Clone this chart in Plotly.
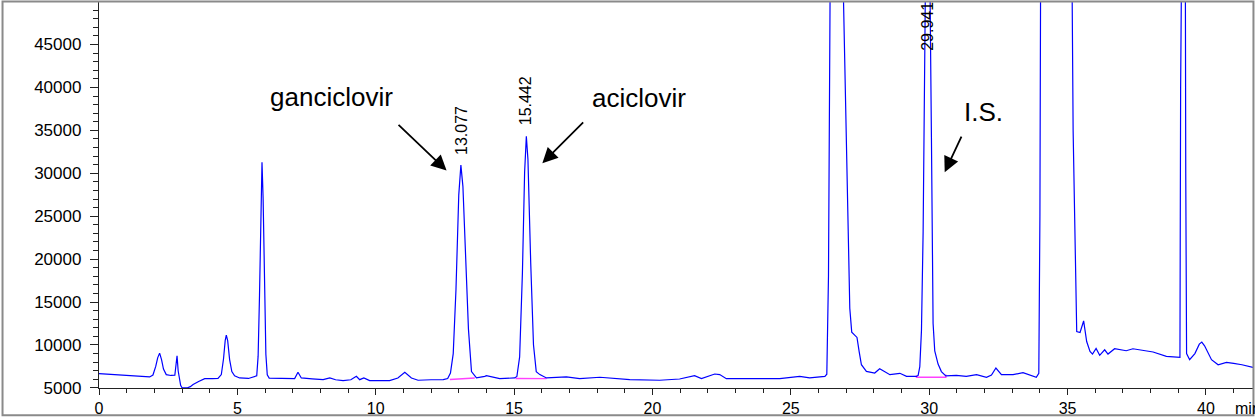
import plotly.graph_objects as go

# ---- chromatogram trace (time in min, signal) ----
time_min = [
    0.0, 0.5, 1.0, 1.5, 1.83, 1.95, 2.05, 2.12, 2.19, 2.26, 2.33, 2.43, 2.6, 2.74,
    2.78, 2.82, 2.86, 2.90, 2.95, 3.0, 3.1, 3.2, 3.3, 3.4, 3.6, 3.82, 4.1, 4.3,
    4.42, 4.5, 4.56, 4.6, 4.65, 4.72, 4.8, 4.9, 5.08, 5.4, 5.70, 5.75, 5.80, 5.85,
    5.89, 5.93, 5.98, 6.03, 6.08, 6.15, 6.6, 7.07, 7.19, 7.31, 7.7, 8.1, 8.34, 8.55,
    8.82, 9.1, 9.3, 9.42, 9.57, 9.78, 10.2, 10.5, 10.8, 11.05, 11.29, 11.53, 12.0,
    12.44, 12.6, 12.7, 12.8, 12.9, 13.0, 13.077, 13.15, 13.25, 13.35, 13.46, 13.64,
    13.94, 14.0, 14.48, 15.02, 15.1, 15.2, 15.3, 15.38, 15.442, 15.5, 15.6, 15.7,
    15.8, 15.93, 16.17, 16.89, 17.37, 18.1, 19.18, 20.26, 20.98, 21.52, 21.77,
    22.25, 22.43, 22.67, 23.39, 24.6, 25.32, 25.68, 26.23, 26.30, 26.36, 26.42,
    26.65, 26.89, 27.0, 27.13, 27.2, 27.3, 27.39, 27.47, 27.55, 27.73, 28.03, 28.21,
    28.58, 28.94, 29.18, 29.54, 29.60, 29.66, 29.72, 29.78, 29.86, 29.941, 30.02,
    30.08, 30.14, 30.2, 30.32, 30.44, 30.6, 30.98, 31.34, 31.71, 32.07, 32.25,
    32.41, 32.61, 33.03, 33.39, 33.63, 33.87, 33.96, 34.0, 34.05, 34.6, 35.1, 35.2,
    35.33, 35.45, 35.58, 35.69, 35.81, 35.9, 36.03, 36.16, 36.34, 36.46, 36.7,
    37.12, 37.36, 37.7, 38.09, 38.57, 39.06, 39.085, 39.11, 39.18, 39.245, 39.27,
    39.30, 39.41, 39.6, 39.76, 39.85, 39.95, 40.2, 40.44, 40.74, 41.0, 41.3, 41.7,
]
signal = [
    6660, 6550, 6450, 6350, 6280, 6500, 7500, 8500, 9050, 8300, 7200, 6550, 6450, 6470,
    7600, 8750, 7000, 6100, 5300, 5020, 5000, 5020, 5150, 5390, 5750, 6080, 6080, 6100,
    6550, 8400, 10500, 11150, 10500, 8300, 6900, 6400, 6160, 6100, 6400, 8700, 15800, 27100,
    31280, 27100, 16400, 8930, 6530, 6150, 6100, 6080, 6820, 6160, 6050, 5960, 6160, 5950,
    5850, 5950, 6350, 5960, 6160, 5850, 5850, 5850, 6160, 6820, 6160, 5890, 5950,
    5960, 6100, 6720, 9000, 16500, 27460, 30950, 28480, 19940, 11850, 6900, 6160,
    6350, 6430, 6080, 6160, 6330, 8610, 18370, 30150, 34300, 31620, 19580, 10020,
    6900, 6550, 6160, 6280, 6080, 6240, 5960, 5890, 6040, 6430, 6080,
    6620, 6550, 6080, 6080, 6080, 6350, 6160, 6350, 6600, 18000, 52000,
    90000, 52000, 33000, 14280, 11500, 11200, 10880, 9200, 7700, 6930, 6740, 7240,
    6540, 6700, 6350, 6350, 6450, 7480, 11700, 23200, 50940, 68300, 54200,
    34200, 12500, 9300, 7780, 6900, 6400, 6470, 6350, 6550, 6240, 6500,
    7320, 6550, 6550, 6780, 6550, 6240, 6700, 25000, 80000, 120000, 80000, 35000,
    11570, 11450, 12800, 10400, 9250, 8940, 9600, 8800, 9440, 8940, 9560,
    9330, 9560, 9350, 9180, 8680, 8560, 40000, 70000, 80000, 70000, 30000,
    9000, 8290, 9000, 10100, 10340, 9900, 8290, 7700, 7970, 7850, 7700, 7390,
]

# integration baselines (magenta)
base1_t = [12.68, 13.58]
base1_v = [5980, 6150]
base2_t = [15.05, 16.17]
base2_v = [6100, 6080]
base3_t = [29.54, 29.54, 30.60, 30.60]
base3_v = [6450, 6240, 6240, 6550]

# peak retention-time labels
peak_labels = ["13.077", "15.442", "29.941"]
peak_label_t = [13.077, 15.442, 29.941]
peak_label_v = [31950, 35340, 44040]

# compound names and arrows (tip / tail)
names = ["ganciclovir", "aciclovir", "I.S."]
name_t = [8.40, 19.50, 31.95]
name_v = [38900, 38785, 37160]
arrow_tip_t = [12.56, 16.02, 30.56]
arrow_tip_v = [30310, 31170, 30125]
arrow_tail_t = [10.77, 17.55, 31.19]
arrow_tail_v = [35805, 36110, 34450]

x_ticks = [0, 5, 10, 15, 20, 25, 30, 35, 40]
y_ticks = [5000, 10000, 15000, 20000, 25000, 30000, 35000, 40000, 45000]

FONT = "Liberation Sans, Arial, sans-serif"

fig = go.Figure()
for bt, bv in [(base1_t, base1_v), (base2_t, base2_v), (base3_t, base3_v)]:
    fig.add_trace(go.Scatter(x=bt, y=bv, mode="lines",
                             line=dict(color="#ff40ff", width=1.4), showlegend=False))
fig.add_trace(go.Scatter(x=time_min, y=signal, mode="lines",
                         line=dict(color="#0000ff", width=1.2), showlegend=False))

annotations = []
for lab, t, v in zip(peak_labels, peak_label_t, peak_label_v):
    annotations.append(dict(x=t, y=v, xref="x", yref="y", text=lab, showarrow=False,
                            textangle=-90, xanchor="center", yanchor="bottom",
                            font=dict(family=FONT, size=16, color="black")))
for n, t, v in zip(names, name_t, name_v):
    annotations.append(dict(x=t, y=v, xref="x", yref="y", text=n, showarrow=False,
                            xanchor="center", yanchor="middle",
                            font=dict(family=FONT, size=26, color="black")))
for tt, tv, at, av in zip(arrow_tip_t, arrow_tip_v, arrow_tail_t, arrow_tail_v):
    annotations.append(dict(x=tt, y=tv, xref="x", yref="y", ax=at, ay=av,
                            axref="x", ayref="y", text="", showarrow=True,
                            arrowhead=2, arrowsize=1.7, arrowwidth=1.8,
                            arrowcolor="black", standoff=0, startstandoff=0))
annotations.append(dict(x=0.9825, y=-0.052, xref="paper", yref="paper", text="min",
                        showarrow=False, xanchor="left", yanchor="middle",
                        font=dict(family=FONT, size=16, color="black")))

fig.update_layout(
    width=1255, height=419,
    margin=dict(l=99, r=2, t=2, b=29),
    paper_bgcolor="white", plot_bgcolor="white",
    annotations=annotations,
    shapes=[dict(type="rect", xref="paper", yref="paper",
                 x0=-0.0836, x1=1.0004, y0=-0.0709, y1=1.0013,
                 line=dict(color="#8a8a8a", width=2), layer="above")],
    xaxis=dict(range=[0, 41.7], tickvals=x_ticks, ticktext=[str(v) for v in x_ticks],
               showline=True, linecolor="#222", linewidth=1.3, showgrid=False,
               zeroline=False, ticks="outside", ticklen=6, tickwidth=1, tickcolor="#222",
               minor=dict(dtick=1, ticks="outside", ticklen=4, tickcolor="#222", showgrid=False),
               tickfont=dict(family=FONT, size=16, color="black")),
    yaxis=dict(range=[4990, 49950], tickvals=y_ticks, ticktext=[str(v) for v in y_ticks],
               showline=True, linecolor="#222", linewidth=1.3, showgrid=False,
               zeroline=False, ticks="outside", ticklen=8, tickwidth=1, tickcolor="#222",
               minor=dict(dtick=1000, ticks="outside", ticklen=5, tickcolor="#222", showgrid=False),
               ticklabelstandoff=5,
               tickfont=dict(family=FONT, size=17, color="black")),
)

fig.write_html("out.html")
